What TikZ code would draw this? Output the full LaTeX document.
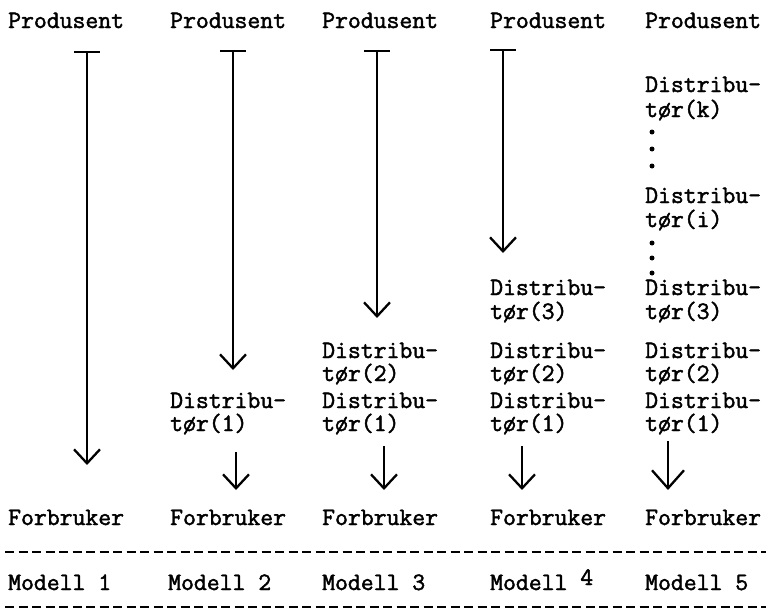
\documentclass[tikz,border=0pt]{standalone}
\usepackage{fontspec}
\usetikzlibrary{arrows.meta}
\newfontfamily\tw{Latin Modern Mono}[FakeStretch=1.0,FakeBold=1.8]
\begin{document}
\begin{tikzpicture}[x=1pt,y=-1pt,
  txt/.style={anchor=base west, inner sep=0pt, font=\tw\fontsize{25}{29}\selectfont},
  flow/.style={line width=2.3pt, {Bar[width=26pt,line width=2.3pt]}-{Straight Barb[length=14pt,width=26pt,line width=2.3pt]}},
  short/.style={line width=2.3pt, -{Straight Barb[length=14pt,width=26pt,line width=2.3pt]}},
  shortbig/.style={line width=2.3pt, -{Straight Barb[length=18pt,width=32pt,line width=2.3pt]}},
  sep/.style={line width=1.8pt, dash pattern=on 9pt off 4.5pt},
  dot/.style={circle, fill=black, inner sep=0pt, minimum size=5pt}]
\useasboundingbox (0,0) rectangle (770,613);

% header row
\node[txt] (p1) at (8,28) {Produsent};
\node[txt] (p2) at (170,28) {Produsent};
\node[txt] (p3) at (322,28) {Produsent};
\node[txt] (p4) at (490,28) {Produsent};
\node[txt] (p5) at (645,28) {Produsent};

% column 5 upper chain
\node[txt] (d5ka) at (645,92) {Distribu-};
\node[txt] (d5kb) at (645,117) {tør(k)};
\node[dot] (k1) at (652,132) {};
\node[dot] (k2) at (652,149) {};
\node[dot] (k3) at (652,166) {};
\node[txt] (d5ia) at (645,203) {Distribu-};
\node[txt] (d5ib) at (645,227) {tør(i)};
\node[dot] (i1) at (652,243) {};
\node[dot] (i2) at (652,258) {};
\node[dot] (i3) at (652,273) {};

% distributor 3
\node[txt] (d4a3) at (490,295) {Distribu-};
\node[txt] (d4b3) at (490,319) {tør(3)};
\node[txt] (d5a3) at (645,295) {Distribu-};
\node[txt] (d5b3) at (645,319) {tør(3)};

% distributor 2
\node[txt] (d3a2) at (322,358) {Distribu-};
\node[txt] (d3b2) at (322,381) {tør(2)};
\node[txt] (d4a2) at (490,358) {Distribu-};
\node[txt] (d4b2) at (490,381) {tør(2)};
\node[txt] (d5a2) at (645,358) {Distribu-};
\node[txt] (d5b2) at (645,381) {tør(2)};

% distributor 1
\node[txt] (d2a1) at (170,408) {Distribu-};
\node[txt] (d2b1) at (170,431) {tør(1)};
\node[txt] (d3a1) at (322,408) {Distribu-};
\node[txt] (d3b1) at (322,431) {tør(1)};
\node[txt] (d4a1) at (490,408) {Distribu-};
\node[txt] (d4b1) at (490,431) {tør(1)};
\node[txt] (d5a1) at (645,408) {Distribu-};
\node[txt] (d5b1) at (645,431) {tør(1)};

% consumers
\node[txt] (f1) at (8,525) {Forbruker};
\node[txt] (f2) at (170,525) {Forbruker};
\node[txt] (f3) at (322,525) {Forbruker};
\node[txt] (f4) at (490,525) {Forbruker};
\node[txt] (f5) at (645,525) {Forbruker};

% model labels
\node[txt] (m1) at (8,590) {Modell 1};
\node[txt] (m2) at (168,590) {Modell 2};
\node[txt] (m3) at (322,590) {Modell 3};
\node[txt] (m4) at (490,590) {Modell \raisebox{5pt}{4}};
\node[txt] (m5) at (645,590) {Modell 5};

% arrow end points
\coordinate (s1) at (87,51);   \coordinate (e1) at (87,465);
\coordinate (s2) at (233,50);  \coordinate (e2) at (233,370);
\coordinate (s3) at (377,50);  \coordinate (e3) at (377,318);
\coordinate (s4) at (503,49);  \coordinate (e4) at (503,253);
\coordinate (t2) at (236,452); \coordinate (u2) at (236,490);
\coordinate (t3) at (384,446); \coordinate (u3) at (384,490);
\coordinate (t4) at (522,446); \coordinate (u4) at (522,490);
\coordinate (t5) at (668,441); \coordinate (u5) at (668,490);

\draw[flow] (s1) -- (e1);
\draw[flow] (s2) -- (e2);
\draw[flow] (s3) -- (e3);
\draw[flow] (s4) -- (e4);
\draw[short] (t2) -- (u2);
\draw[short] (t3) -- (u3);
\draw[short] (t4) -- (u4);
\draw[shortbig] (t5) -- (u5);

% separators
\coordinate (la) at (5,552);  \coordinate (ra) at (766,552);
\coordinate (lb) at (5,607);  \coordinate (rb) at (766,607);
\draw[sep] (la) -- (ra);
\draw[sep] (lb) -- (rb);
\end{tikzpicture}
\end{document}
